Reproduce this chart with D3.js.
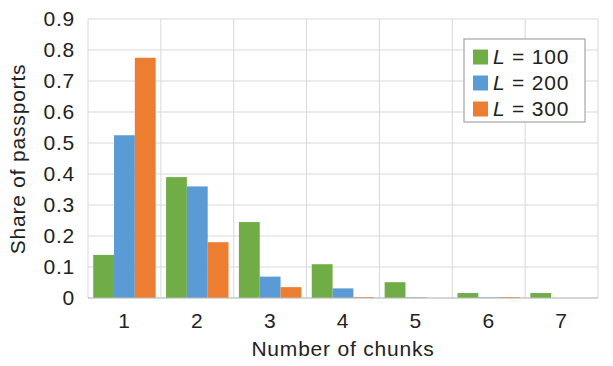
<html><head>
<script src="https://d3js.org/d3.v7.min.js"></script>
<style>
  body { margin: 0; background: #fff; }
  text { font-family: "Liberation Sans", Arial, sans-serif; fill: #222; }
</style>
</head>
<body>
<svg id="chart" width="613" height="366"></svg>
<script>
  // chart data
  const chunks = ["1", "2", "3", "4", "5", "6", "7"];
  const seriesNames = ["100", "200", "300"];
  const l100 = [0.139, 0.39, 0.245, 0.109, 0.051, 0.016, 0.016];
  const l200 = [0.525, 0.36, 0.069, 0.031, 0.002, 0.002, 0];
  const l300 = [0.775, 0.18, 0.035, 0.003, 0, 0.003, 0];
  const yTicks = [0, 0.1, 0.2, 0.3, 0.4, 0.5, 0.6, 0.7, 0.8, 0.9];

  const colors = ["#70ad47", "#5b9bd5", "#ed7d31"];
  const series = [l100, l200, l300];

  const svg = d3.select("#chart");
  const margin = { top: 19, right: 15, bottom: 68, left: 88 };
  const width = 613 - margin.left - margin.right;
  const height = 366 - margin.top - margin.bottom;

  const g = svg.append("g").attr("transform", `translate(${margin.left},${margin.top})`);

  const x = d3.scaleBand().domain(chunks).range([0, width]).paddingInner(0).paddingOuter(0);
  const inner = d3.scaleBand().domain(seriesNames).range([0, x.bandwidth()])
                  .paddingInner(0).paddingOuter(0.25);
  const y = d3.scaleLinear().domain([0, 0.9]).range([height, 0]);

  // horizontal grid
  g.selectAll("line.hgrid").data(yTicks)
    .join("line").attr("class", "hgrid")
    .attr("x1", 0).attr("x2", width)
    .attr("y1", d => y(d)).attr("y2", d => y(d))
    .attr("stroke", "#d9d9d9").attr("stroke-width", 1);

  // vertical grid at band edges
  const edges = chunks.map(c => x(c)).concat([width]);
  g.selectAll("line.vgrid").data(edges)
    .join("line").attr("class", "vgrid")
    .attr("x1", d => d).attr("x2", d => d)
    .attr("y1", 0).attr("y2", height)
    .attr("stroke", "#d9d9d9").attr("stroke-width", 1);

  // bars
  series.forEach((vals, i) => {
    g.selectAll("rect.s" + i).data(vals)
      .join("rect").attr("class", "s" + i)
      .attr("x", (d, j) => x(chunks[j]) + inner(seriesNames[i]))
      .attr("width", inner.bandwidth())
      .attr("y", d => y(d))
      .attr("height", d => height - y(d))
      .attr("fill", colors[i]);
  });

  // bottom axis line
  g.append("line").attr("x1", 0).attr("x2", width)
    .attr("y1", height).attr("y2", height)
    .attr("stroke", "#bfbfbf");

  const big = t => t.style("font-size", "21px").style("letter-spacing", "0.8px");

  // y tick labels
  g.selectAll("text.ytick").data(yTicks)
    .join("text").attr("class", "ytick")
    .attr("x", -13).attr("y", d => y(d)).attr("dy", "0.35em")
    .attr("text-anchor", "end").call(big)
    .text(d => d === 0 ? "0" : d3.format(".1f")(d));

  // x tick labels
  g.selectAll("text.xtick").data(chunks)
    .join("text").attr("class", "xtick")
    .attr("x", d => x(d) + x.bandwidth() / 2).attr("y", height + 30)
    .attr("text-anchor", "middle").call(big)
    .text(d => d);

  // axis titles
  g.append("text").attr("x", width / 2).attr("y", height + 58)
    .attr("text-anchor", "middle").call(big)
    .text("Number of chunks");
  svg.append("text").attr("transform", "translate(25,159) rotate(-90)")
    .attr("text-anchor", "middle").call(big)
    .text("Share of passports");

  // legend
  const legend = svg.append("g").attr("transform", "translate(464,39)");
  legend.append("rect").attr("width", 121).attr("height", 83)
    .attr("fill", "#fff").attr("stroke", "#a6a6a6").attr("stroke-width", 1.2);
  seriesNames.forEach((s, i) => {
    const row = legend.append("g").attr("transform", `translate(9,${18 + i * 26})`);
    row.append("rect").attr("x", 0).attr("y", -7.5).attr("width", 15).attr("height", 15)
      .attr("fill", colors[i]);
    const t = row.append("text").attr("x", 20).attr("dy", "0.35em").call(big);
    t.append("tspan").style("font-style", "italic").text("L");
    t.append("tspan").text(" = " + s);
  });
</script>
</body>
</html>
